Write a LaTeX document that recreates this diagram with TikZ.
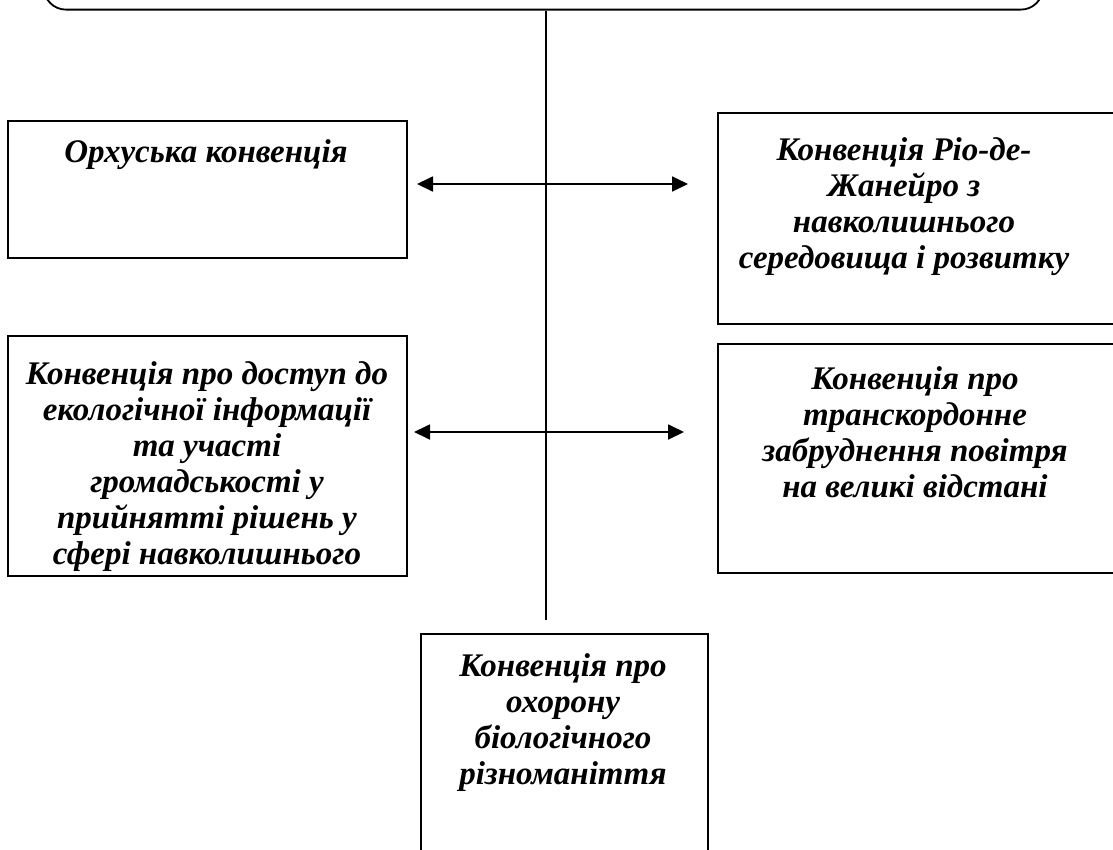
\documentclass[tikz,border=0pt]{standalone}
\usepackage{fontspec}
\setmainfont{Liberation Serif}
\usetikzlibrary{arrows.meta}
\tikzset{
  box/.style={draw, line width=1.8pt, inner sep=0pt, anchor=north west},
  lbl/.style={anchor=north, inner sep=0pt, align=center,
    font=\fontsize{33}{36}\selectfont\bfseries\itshape},
  link/.style={line width=1.8pt, {Triangle[length=16pt,width=15pt]}-{Triangle[length=16pt,width=15pt]}},
  stem/.style={line width=1.3pt}
}
\begin{document}
\begin{tikzpicture}[x=1pt,y=-1pt]
\useasboundingbox (0,0) rectangle (1113,849);
\clip (0,0) rectangle (1113,849);
% top rounded box (mostly cut off)
\node[draw, line width=1.8pt, rounded corners=22pt, inner sep=0pt,
  minimum width=999pt, minimum height=80pt, anchor=south west] (top) at (43,10.5) {};
% boxes
\node[box, minimum width=399pt, minimum height=137pt] (b1) at (7,120) {};
\node[box, minimum width=420pt, minimum height=211pt] (b2) at (717,112) {};
\node[box, minimum width=399pt, minimum height=240pt] (b3) at (7,335) {};
\node[box, minimum width=420pt, minimum height=229pt] (b4) at (717,343) {};
\node[box, minimum width=287pt, minimum height=240pt] (b5) at (420,633) {};
% texts
\node[lbl] (t1) at (206,137) {\strut Орхуська конвенція};
\node[lbl] (t2) at (904,135) {\strut Конвенція Ріо-де-\\Жанейро з\\навколишнього\\середовища і розвитку};
\node[lbl] (t3) at (207,359) {\strut Конвенція про доступ до\\екологічної інформації\\та участі\\громадськості у\\прийнятті рішень у\\сфері навколишнього};
\node[lbl] (t4) at (915,364) {\strut Конвенція про\\транскордонне\\забруднення повітря\\на великі відстані};
\node[lbl] (t5) at (563,651) {\strut Конвенція про\\охорону\\біологічного\\різноманіття};
% connectors
\coordinate (vend) at (546,620);
\draw[stem] (top.south -| vend) -- (vend);
\coordinate (a1l) at (417,184);
\coordinate (a1r) at (688,184);
\coordinate (a2l) at (414,432);
\coordinate (a2r) at (684,432);
\draw[link] (a1l) -- (a1r);
\draw[link] (a2l) -- (a2r);
\end{tikzpicture}
\end{document}
